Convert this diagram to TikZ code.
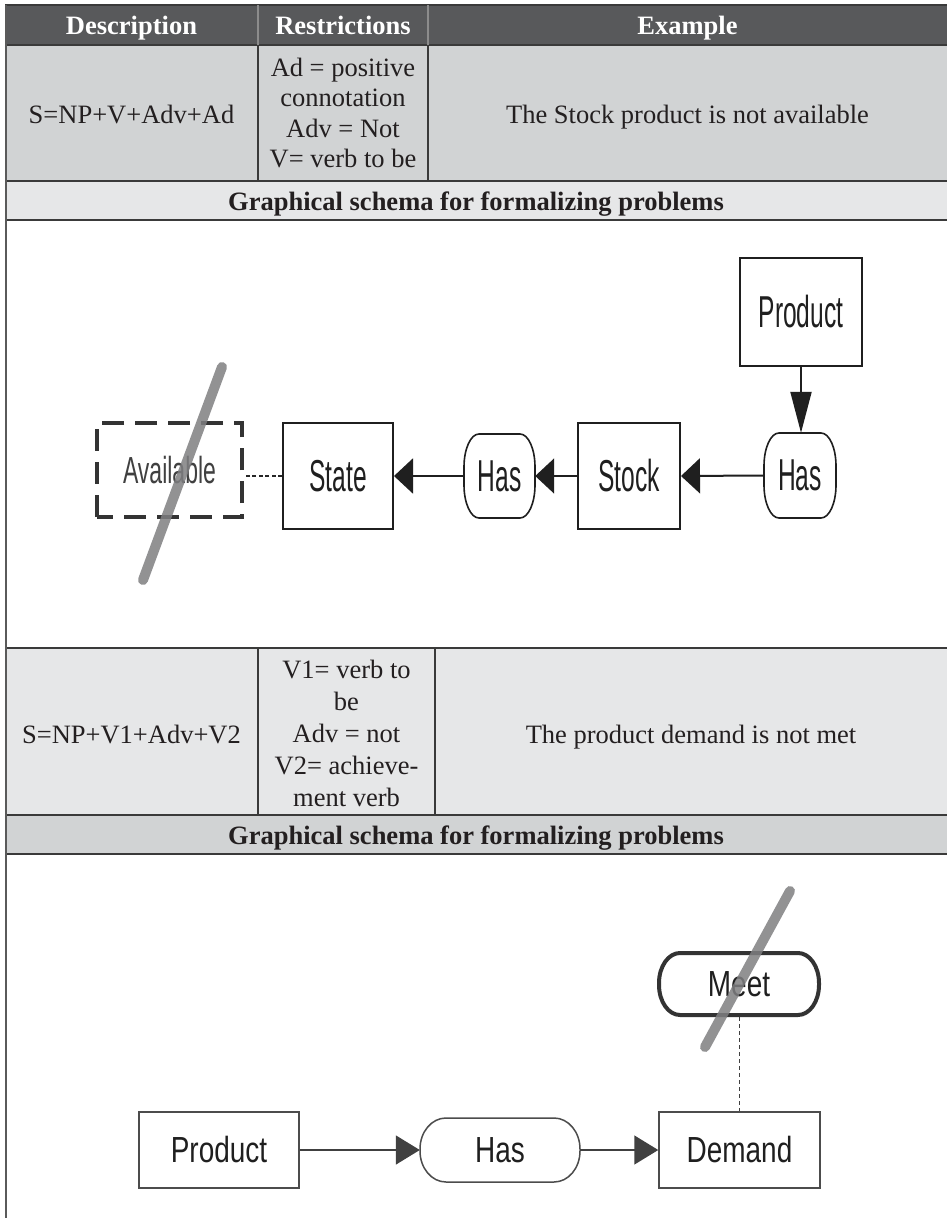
\documentclass[tikz,border=0pt]{standalone}
\usepackage{fontspec}
\setmainfont{Liberation Serif}
\newfontfamily\diagfont{Liberation Sans}
\usepackage{graphicx}
\usetikzlibrary{arrows.meta}

\definecolor{hdrfill}{HTML}{58595B}
\definecolor{rowdark}{HTML}{D1D3D4}
\definecolor{rowlight}{HTML}{E6E7E8}
\definecolor{rulec}{HTML}{3A3A3A}
\definecolor{edgec}{HTML}{5A5A5A}
\definecolor{inkc}{HTML}{231F20}
\definecolor{strikec}{HTML}{7F7F81}

% horizontally condensed labels for the two schemas
\newcommand\narA[1]{\scalebox{0.55}[1]{#1}}
\newcommand\narAv[1]{\scalebox{0.61}[1]{#1}}
\newcommand\narB[1]{\scalebox{0.77}[1]{#1}}

% outline with elliptical corners: x1 y1 x2 y2 rx ry style
\newcommand\pill[7]{%
  \draw[#7] ({#1+#5},#2) -- ({#3-#5},#2)
    arc[start angle=270,end angle=360,x radius=#5,y radius=#6]
    -- (#3,{#4-#6})
    arc[start angle=0,end angle=90,x radius=#5,y radius=#6]
    -- ({#1+#5},#4)
    arc[start angle=90,end angle=180,x radius=#5,y radius=#6]
    -- (#1,{#2+#6})
    arc[start angle=180,end angle=270,x radius=#5,y radius=#6]
    -- cycle;}

\tikzset{
  rulel/.style={draw=rulec,line width=1.8pt},
  hdr/.style={text=white,font=\fontsize{26.5}{30.5}\selectfont\bfseries,inner sep=0pt,anchor=base},
  cell/.style={text=inkc,font=\fontsize{26.5}{30.5}\selectfont,inner sep=0pt,anchor=base},
  cellm/.style={text=inkc,font=\fontsize{26.5}{30.5}\selectfont,inner sep=0pt,align=center},
  cellw/.style={text=inkc,font=\fontsize{26.5}{32}\selectfont,inner sep=0pt,align=center},
  cellb/.style={text=inkc,font=\fontsize{26.5}{30.5}\selectfont\bfseries,inner sep=0pt,anchor=base},
  boxA/.style={draw=black!88,line width=2pt,inner sep=0pt,text=black!88,
    font=\diagfont\fontsize{44.7}{50}\selectfont},
  pillA/.style={inner sep=0pt,text=black!88,font=\diagfont\fontsize{44.7}{50}\selectfont},
  availbox/.style={draw=black!80,line width=3.6pt,dash pattern=on 22pt off 11pt,
    dash phase=6pt,inner sep=0pt,text=black!75,font=\diagfont\fontsize{37.7}{42}\selectfont},
  boxB/.style={draw=black!70,line width=1.5pt,inner sep=0pt,text=black!88,
    font=\diagfont\fontsize{36.3}{40}\selectfont},
  pillB/.style={inner sep=0pt,text=black!88,font=\diagfont\fontsize{36.3}{40}\selectfont},
  connA/.style={draw=black!88,line width=2pt},
  headH/.style={-{Triangle[length=19pt,width=35pt]}},
  headV/.style={-{Triangle[length=41pt,width=21pt]}},
  headB/.style={-{Triangle[length=24pt,width=29pt]}},
  connB/.style={draw=black!75,line width=1.5pt},
  strike/.style={draw=strikec,line width=10pt,line cap=round,opacity=0.85},
}

\begin{document}
\begin{tikzpicture}[x=1pt,y=-1pt]
\useasboundingbox (0,0) rectangle (947,1218);
\fill[white] (0,0) rectangle (947,1218);

% ---- table backgrounds
\fill[hdrfill]  (5,5)   rectangle (947,45);
\fill[rowdark]  (5,45)  rectangle (947,181);
\fill[rowlight] (5,181) rectangle (947,220);
\fill[rowlight] (5,648) rectangle (947,815);
\fill[rowdark]  (5,815) rectangle (947,854);

% ---- table rules
\foreach \yy in {5,45,181,220,648,815,854}{\draw[rulel] (5,\yy) -- (947,\yy);}
\draw[draw=black!45,line width=1.2pt] (258,5) -- (258,45) (428,5) -- (428,45);
\draw[rulel,line width=1.4pt] (258,45) -- (258,181) (428,45) -- (428,181);
\draw[rulel,line width=1.4pt] (258,648) -- (258,815) (435,648) -- (435,815);
\draw[draw=edgec,line width=2pt] (6,5) -- (6,1218);

% ---- table text (single lines placed on their baselines)
\node[hdr] (hdesc)  at (131.5,34) {Description};
\node[hdr] (hrestr) at (343,34)   {Restrictions};
\node[hdr] (hexmp)  at (687.5,34) {Example};

\node[cell]  (desc1)  at (131.5,123) {S=NP+V+Adv+Ad};
\node[cellm] (restr1) at (343,113)   {Ad = positive\\connotation\\Adv = Not\\V= verb to be};
\node[cell]  (exmp1)  at (687.5,123) {The Stock product is not available};
\node[cellb] (schema1) at (476,210) {Graphical schema for formalizing problems};

\node[cell]  (desc2)  at (131.5,743) {S=NP+V1+Adv+V2};
\node[cellw] (restr2) at (346.5,733) {V1= verb to\\be\\Adv = not\\V2= achieve-\\ment verb};
\node[cell]  (exmp2)  at (691,743)   {The product demand is not met};
\node[cellb] (schema2) at (476,844) {Graphical schema for formalizing problems};

% ---- first schema
\node[boxA,minimum width=122pt,minimum height=108pt] (prodA) at (801,312) {\narA{Product}};
\node[pillA,minimum width=72pt,minimum height=85pt] (hasA1) at (800,475.5) {\narA{Has}};
\pill{764}{433}{836}{518}{15}{33}{draw=black!88,line width=1.6pt}
\node[boxA,minimum width=102pt,minimum height=106pt] (stock) at (629,476) {\narA{Stock}};
\node[pillA,minimum width=71pt,minimum height=84pt] (hasA2) at (499.5,476) {\narA{Has}};
\pill{464}{434}{535}{518}{15}{33}{draw=black!88,line width=1.6pt}
\node[boxA,minimum width=110pt,minimum height=106pt] (state) at (338,476) {\narA{State}};
\node[availbox,minimum width=145pt,minimum height=94pt] (avail) at (169.5,470) {\narAv{Available}};

\draw[connA,headV] (prodA.south) -- (prodA.south |- hasA1.north);
\draw[connA,headH] (hasA1.west) -- (stock.east);
\draw[connA,headH] (stock.west) -- (hasA2.east);
\draw[connA,headH] (hasA2.west) -- (state.east);
\draw[draw=black!85,line width=2pt,dash pattern=on 4pt off 2.5pt]
  (state.west) -- (state.west -| avail.east);

\draw[strike] (222,367) -- (143,580);

% ---- second schema
\node[boxB,minimum width=160pt,minimum height=76pt] (prodB) at (219,1150) {\narB{Product}};
\node[pillB,minimum width=160pt,minimum height=64pt] (hasB) at (500,1150) {\narB{Has}};
\pill{420}{1118}{580}{1182}{26}{31}{draw=black!70,line width=1.5pt}
\node[boxB,minimum width=161pt,minimum height=76pt] (demand) at (739.5,1150) {\narB{Demand}};
\node[pillB,minimum width=164pt,minimum height=66pt] (meet) at (739,984) {\narB{Meet}};
\pill{659}{953}{819}{1015}{21}{30}{draw=black!80,line width=4pt}

\draw[connB,headB] (prodB.east) -- (hasB.west);
\draw[connB,headB] (hasB.east) -- (demand.west);
\draw[draw=black!75,line width=1pt,dash pattern=on 4pt off 3pt]
  (meet.south) -- (meet.south |- demand.north);

\draw[strike] (790,891) -- (705,1047);
\end{tikzpicture}
\end{document}
